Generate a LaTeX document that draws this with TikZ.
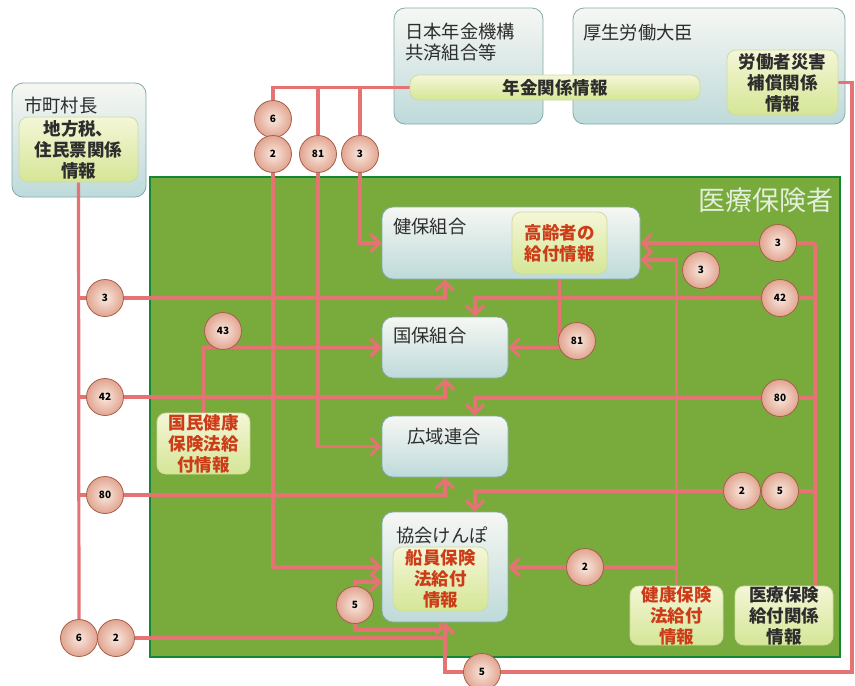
\documentclass[tikz,border=0pt]{standalone}
\usepackage{fontspec}
\setmainfont{Noto Sans CJK JP}
\usetikzlibrary{arrows.meta,backgrounds}

\definecolor{boxline}{RGB}{130,170,170}
\definecolor{boxtop}{RGB}{246,247,243}
\definecolor{boxbot}{RGB}{190,218,218}
\definecolor{innerline}{RGB}{205,220,160}
\definecolor{innertop}{RGB}{245,246,215}
\definecolor{innerbot}{RGB}{212,230,150}
\definecolor{darktext}{RGB}{45,45,45}
\definecolor{redtext}{RGB}{205,60,25}
\definecolor{numline}{RGB}{165,95,75}
\definecolor{numin}{RGB}{250,232,222}
\definecolor{numout}{RGB}{225,165,145}
\definecolor{linkred}{RGB}{230,115,115}
\definecolor{areagreen}{RGB}{120,170,60}
\definecolor{arealine}{RGB}{20,135,55}
\definecolor{areatext}{RGB}{228,238,220}

\begin{document}
\begin{tikzpicture}[x=1pt, y=-1pt, line join=round,
    wh/.style 2 args = {minimum width=#1pt, minimum height=#2pt},
    box/.style = {draw=boxline, line width=0.8pt, rounded corners=11pt, top color=boxtop, bottom color=boxbot, inner sep=0pt},
    inner/.style = {draw=innerline, line width=0.8pt, rounded corners=9pt, top color=innertop, bottom color=innerbot, inner sep=0pt, align=center, text=darktext, font=\fontsize{17.5}{21}\selectfont\bfseries},
    redinner/.style = {inner, text=redtext},
    title/.style = {inner sep=0pt, text=darktext, font=\fontsize{18.3}{21}\selectfont},
    area/.style = {draw=arealine, line width=2pt, fill=areagreen, inner sep=0pt},
    num/.style = {circle, draw=numline, line width=0.8pt, inner color=numin, outer color=numout, minimum size=37pt, inner sep=0pt, font=\fontsize{10}{10}\selectfont\bfseries},
    link/.style = {draw=linkred, line width=3.2pt},
    arrow/.style = {link, -{Straight Barb[length=9pt,width=18pt]}}]
        \useasboundingbox (0,0) rectangle (855,686);

        \begin{scope}[on background layer]
            \node[box, wh={134}{114}] (shicho) at (79,140) {};
            \node[box, wh={149}{116}] (kikou) at (468.5,66) {};
            \node[box, wh={272}{116}] (daijin) at (709,66) {};
            \node[area, wh={690}{480}] (hoken) at (495,417) {};
        \end{scope}

        \node[title, anchor=west] (tshicho) at (24,106) {市町村長};
        \node[inner, wh={119}{65}] (chiho) at (78.5,149.5) {地方税、\\住民票関係\\情報};
        \node[title, anchor=west, align=left] (tkikou) at (405,42) {日本年金機構\\共済組合等};
        \node[title, anchor=west] (tdaijin) at (583,33) {厚生労働大臣};
        \node[inner, wh={290}{25}] (nenkin) at (555,87.5) {年金関係情報};
        \node[inner, wh={111}{65}] (rosai) at (782.5,82.5) {労働者災害\\補償関係\\情報};
        \node[anchor=east, inner sep=0pt, text=areatext, font=\fontsize{27}{27}\selectfont] (thoken) at (834,200) {医療保険者};

        \node[box, wh={258}{72}] (kenpo) at (511,243) {};
        \node[title, anchor=west] (tkenpo) at (393,227) {健保組合};
        \node[redinner, wh={95}{62}] (koreisha) at (559.5,243) {高齢者の\\給付情報};
        \node[box, wh={126}{61}] (kokuho) at (445,347.5) {};
        \node[title, anchor=west] (tkokuho) at (393,336) {国保組合};
        \node[box, wh={126}{61}] (koiki) at (445,446.5) {};
        \node[title] (tkoiki) at (444,437) {広域連合};
        \node[box, wh={126}{110}] (kyokai) at (445,567) {};
        \node[title, anchor=west] (tkyokai) at (396,535) {協会けんぽ};
        \node[redinner, wh={95}{64}] (senin) at (440.5,579) {船員保険\\法給付\\情報};
        \node[redinner, wh={93}{61}] (kokumin) at (203.5,443.5) {国民健康\\保険法給\\付情報};
        \node[redinner, wh={93}{59}] (kenko) at (676.5,615.5) {健康保険\\法給付\\情報};
        \node[inner, wh={98}{59}] (iryo) at (784,615.5) {医療保険\\給付関係\\情報};

        \node[num] (n6a) at (273,119) {6};
        \node[num] (n2a) at (273,154) {2};
        \node[num] (n81a) at (318,154) {81};
        \node[num] (n3a) at (360,154) {3};
        \node[num] (n3l) at (105,298) {3};
        \node[num] (n42l) at (105,397) {42};
        \node[num] (n80l) at (105,495) {80};
        \node[num] (n6l) at (79,638) {6};
        \node[num] (n2l) at (116,638) {2};
        \node[num] (n43) at (223,331) {43};
        \node[num] (n81m) at (577,341) {81};
        \node[num] (n3r) at (778,243) {3};
        \node[num] (n3m) at (701,270) {3};
        \node[num] (n42r) at (780,298) {42};
        \node[num] (n80r) at (780,398) {80};
        \node[num] (n2r) at (742,491) {2};
        \node[num] (n5r) at (780,491) {5};
        \node[num] (n2m) at (585,567) {2};
        \node[num] (n5m) at (355,605) {5};
        \node[num] (n5b) at (482,672) {5};

        \coordinate (rtop) at (815,243);
        \coordinate (sbend) at (355,630);
        \coordinate (rbot) at (852,672);

        \begin{scope}[on background layer]
            \draw[link] (nenkin.west) -| (n6a);
            \draw[link] (n6a) -- (n2a);
            \draw[arrow] (n2a) |- (kyokai.west);
            \draw[link] (n81a |- nenkin.west) -- (n81a);
            \draw[arrow] (n81a) |- (koiki.west);
            \draw[link] (n3a |- nenkin.west) -- (n3a);
            \draw[arrow] (n3a) |- (kenpo.west);

            \draw[link] (chiho.south) -- (n6l);
            \draw[link] (n6l) -- (n2l);
            \draw[arrow] (n2l) -| (kyokai.south);
            \draw[link] (n6l |- n3l) -- (n3l);
            \draw[arrow] (n3l) -| (kokuho.north |- kenpo.south);
            \draw[link] (n6l |- n42l) -- (n42l);
            \draw[arrow] (n42l) -| (kokuho.south);
            \draw[link] (n6l |- n80l) -- (n80l);
            \draw[arrow] (n80l) -| (koiki.south);

            \draw[link] (iryo.north -| rtop) -- (rtop);
            \draw[arrow] (rtop) -- (kenpo.east);
            \draw[link] (rtop |- n42r) -- (n42r);
            \draw[arrow] (n42r) -| ([xshift=30pt]kokuho.north);
            \draw[link] (rtop |- n80r) -- (n80r);
            \draw[arrow] (n80r) -| ([xshift=30pt]koiki.north);
            \draw[link] (rtop |- n5r) -- (n5r) -- (n2r);
            \draw[arrow] (n2r) -| ([xshift=30pt]kyokai.north);

            \draw[arrow] (kenko.north) |- ([yshift=-17pt]kenpo.east);
            \draw[arrow] (kenko.north |- kyokai.east) -- (kyokai.east);
            \draw[arrow] (koreisha.south) |- (kokuho.east);
            \draw[arrow] (kokumin.north) |- (kokuho.west);
            \draw[link] (senin.south) |- (sbend) -- (n5m);
            \draw[arrow] (n5m) |- ([yshift=-15pt]kyokai.west);
            \draw[arrow] (rosai.east) -| (rbot) -| (kyokai.south);
        \end{scope}

    \end{tikzpicture}
\end{document}
